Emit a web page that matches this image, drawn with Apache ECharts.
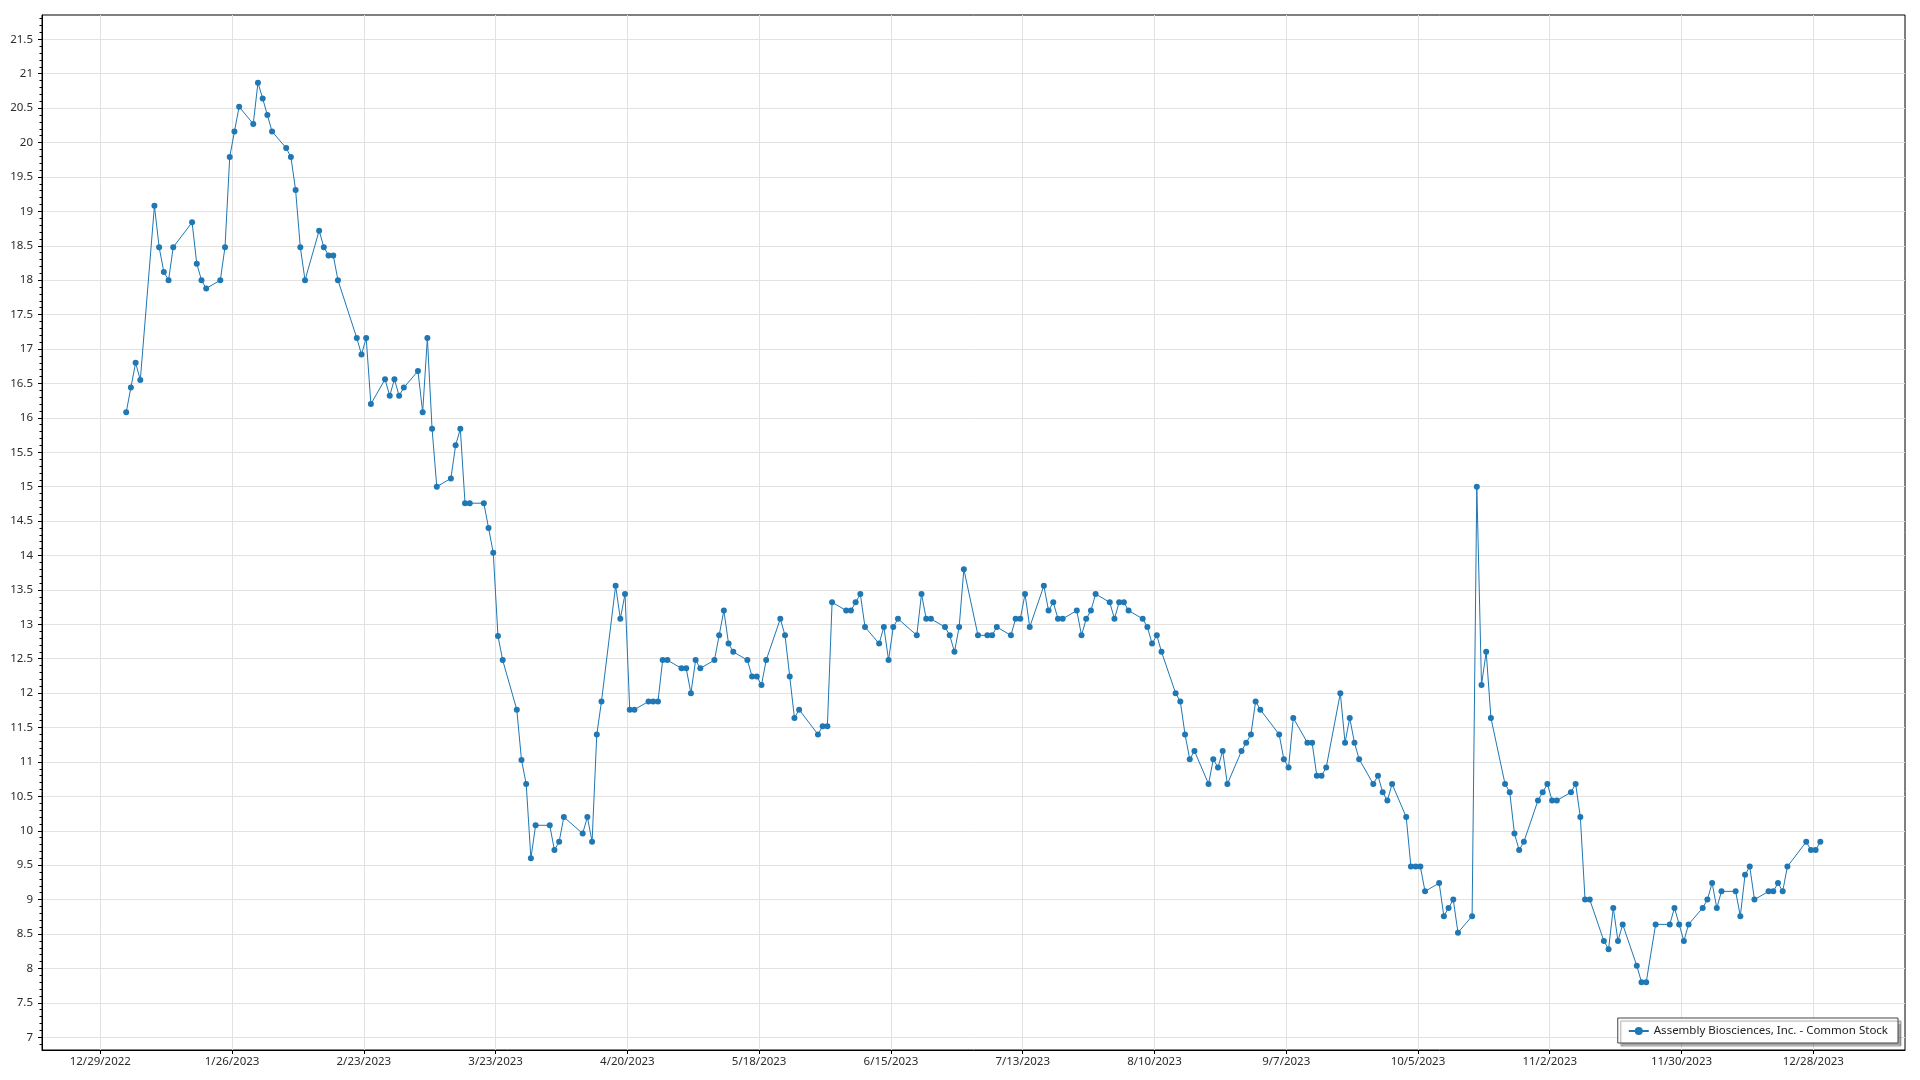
<!DOCTYPE html>
<html><head><meta charset="utf-8">
<script src="https://cdn.jsdelivr.net/npm/echarts@6/dist/echarts.min.js"></script>
<style>html,body{margin:0;padding:0;background:#fff}#c{width:1920px;height:1080px}</style>
</head><body><div id="c"></div>
<script>
const seriesName = 'Assembly Biosciences, Inc. - Common Stock';
const xTickLabels = ['12/29/2022','1/26/2023','2/23/2023','3/23/2023','4/20/2023','5/18/2023','6/15/2023','7/13/2023','8/10/2023','9/7/2023','10/5/2023','11/2/2023','11/30/2023','12/28/2023'];
const yTickLabels = ['7','7.5','8','8.5','9','9.5','10','10.5','11','11.5','12','12.5','13','13.5','14','14.5','15','15.5','16','16.5','17','17.5','18','18.5','19','19.5','20','20.5','21','21.5'];
const marketHolidays = ['2023-01-02','2023-01-16','2023-02-20','2023-04-07','2023-05-29','2023-06-19','2023-07-04','2023-09-04','2023-11-23','2023-12-25'];

const closeJan = [16.08,16.44,16.80,16.55,19.08,18.48,18.12,18.00,18.48,18.84,18.24,18.00,17.88,18.00,18.48,19.79,20.16,20.52,20.27,20.87];
const closeFeb = [20.64,20.40,20.16,19.92,19.79,19.31,18.48,18.00,18.72,18.48,18.36,18.36,18.00,17.16,16.92,17.16,16.20,16.56,16.32];
const closeMar = [16.56,16.32,16.44,16.68,16.08,17.16,15.84,15.00,15.12,15.60,15.84,14.76,14.76,14.76,14.40,14.04,12.83,12.48,11.76,11.03,10.68,9.60,10.08];
const closeApr = [10.08,9.72,9.84,10.20,9.96,10.20,9.84,11.40,11.88,13.56,13.08,13.44,11.76,11.76,11.88,11.88,11.88,12.48,12.48];
const closeMay = [12.36,12.36,12.00,12.48,12.36,12.48,12.84,13.20,12.72,12.60,12.48,12.24,12.24,12.12,12.48,13.08,12.84,12.24,11.64,11.76,11.40,11.52];
const closeJun = [11.52,13.32,13.20,13.20,13.32,13.44,12.96,12.72,12.96,12.48,12.96,13.08,12.84,13.44,13.08,13.08,12.96,12.84,12.60,12.96,13.80];
const closeJul = [12.84,12.84,12.84,12.96,12.84,13.08,13.08,13.44,12.96,13.56,13.20,13.32,13.08,13.08,13.20,12.84,13.08,13.20,13.44,13.32];
const closeAug = [13.08,13.32,13.32,13.20,13.08,12.96,12.72,12.84,12.60,12.00,11.88,11.40,11.04,11.16,10.68,11.04,10.92,11.16,10.68,11.16,11.28,11.40,11.88];
const closeSep = [11.76,11.40,11.04,10.92,11.64,11.28,11.28,10.80,10.80,10.92,12.00,11.28,11.64,11.28,11.04,10.68,10.80,10.56,10.44,10.68];
const closeOct = [10.20,9.48,9.48,9.48,9.12,9.24,8.76,8.88,9.00,8.52,8.76,15.00,12.12,12.60,11.64,10.68,10.56,9.96,9.72,9.84,10.44,10.56];
const closeNov = [10.68,10.44,10.44,10.56,10.68,10.20,9.00,9.00,8.40,8.28,8.88,8.40,8.64,8.04,7.80,7.80,8.64,8.64,8.88,8.64,8.40];
const closeDec = [8.64,8.88,9.00,9.24,8.88,9.12,9.12,8.76,9.36,9.48,9.00,9.12,9.12,9.24,9.12,9.48,9.84,9.72,9.72,9.84];

const DAY = 86400000;
function parseMDY(s){const p=s.split('/').map(Number);return Date.UTC(p[2],p[0]-1,p[1]);}
function fmtMDY(t){const d=new Date(Math.round(t));return (d.getUTCMonth()+1)+'/'+d.getUTCDate()+'/'+d.getUTCFullYear();}

const prices = [].concat(closeJan,closeFeb,closeMar,closeApr,closeMay,closeJun,closeJul,closeAug,closeSep,closeOct,closeNov,closeDec);
const tradingDates = [];
for (let t = Date.UTC(2023,0,1); t <= Date.UTC(2023,11,31); t += DAY) {
  const d = new Date(t); const wd = d.getUTCDay();
  if (wd === 0 || wd === 6) continue;
  const iso = d.toISOString().slice(0,10);
  if (marketHolidays.indexOf(iso) >= 0) continue;
  tradingDates.push(iso);
}
const data = tradingDates.map((iso,i) => [Date.parse(iso + 'T12:00:00Z'), prices[i]]);

const xTicks = xTickLabels.map(parseMDY);
const yTicks = yTickLabels.map(Number);
const yMinor = [];
for (let i = 0; i < yTicks.length; i++) {
  for (let k = -4; k <= 4; k++) {
    if (k === 0) continue;
    const v = Math.round((yTicks[i] + k*0.1)*10)/10;
    if (yMinor.indexOf(v) < 0 && yTicks.indexOf(v) < 0) yMinor.push(v);
  }
}
const yMin = 6.815, yMax = 21.853;
const xMin = xTicks[0] - 12.39*DAY, xMax = xTicks[0] + 383.49*DAY;

const FONT = 'Noto Sans';
const chart = echarts.init(document.getElementById('c'), null, {renderer:'canvas'});
chart.setOption({
  animation: false,
  backgroundColor: '#fff',
  grid: {left: 42, right: 15, top: 15, bottom: 30, show: true, borderColor: '#000', borderWidth: 1, containLabel: false},
  legend: {
    show: true, right: 22, bottom: 37, orient: 'horizontal',
    backgroundColor: '#fff', borderColor: '#444', borderWidth: 1, borderRadius: 0,
    padding: [7, 10, 6, 10], itemWidth: 20, itemHeight: 10, itemGap: 6,
    shadowColor: 'rgba(0,0,0,0.35)', shadowBlur: 1, shadowOffsetX: 3, shadowOffsetY: 3,
    textStyle: {fontFamily: FONT, fontSize: 11.5, color: '#222'},
    data: [{name: seriesName}]
  },
  xAxis: {
    type: 'value', min: xMin, max: xMax,
    axisLine: {show: true, lineStyle: {color: '#000', width: 1}},
    axisTick: {show: true, customValues: xTicks, length: 4, inside: false, lineStyle: {color: '#000'}},
    axisLabel: {show: true, customValues: xTicks, formatter: v => fmtMDY(v), margin: 6, fontFamily: FONT, fontSize: 11.5, color: '#2b2b2b', hideOverlap: false, showMinLabel: true, showMaxLabel: true},
    splitLine: {show: true, lineStyle: {color: '#e2e2e2', width: 1}}
  },
  yAxis: [{
    type: 'value', min: yMin, max: yMax,
    axisLine: {show: true, lineStyle: {color: '#000', width: 1}},
    axisTick: {show: true, customValues: yTicks, length: 4, lineStyle: {color: '#000'}},
    axisLabel: {show: true, customValues: yTicks, formatter: v => String(Math.round(v*10)/10), margin: 9, fontFamily: FONT, fontSize: 11.5, color: '#2b2b2b'},
    splitLine: {show: true, lineStyle: {color: '#e2e2e2', width: 1}}
  }, {
    type: 'value', min: yMin, max: yMax, position: 'left',
    axisLine: {show: false},
    axisTick: {show: true, customValues: yMinor, length: 2.5, lineStyle: {color: '#000'}},
    axisLabel: {show: false},
    splitLine: {show: false}
  }],
  series: [{
    name: seriesName, type: 'line', yAxisIndex: 0, data: data,
    symbol: 'circle', symbolSize: 6, showSymbol: true, showAllSymbol: true,
    lineStyle: {color: '#1f77b4', width: 1},
    itemStyle: {color: '#1f77b4'},
    emphasis: {disabled: true}
  }]
});
</script>
</body></html>
